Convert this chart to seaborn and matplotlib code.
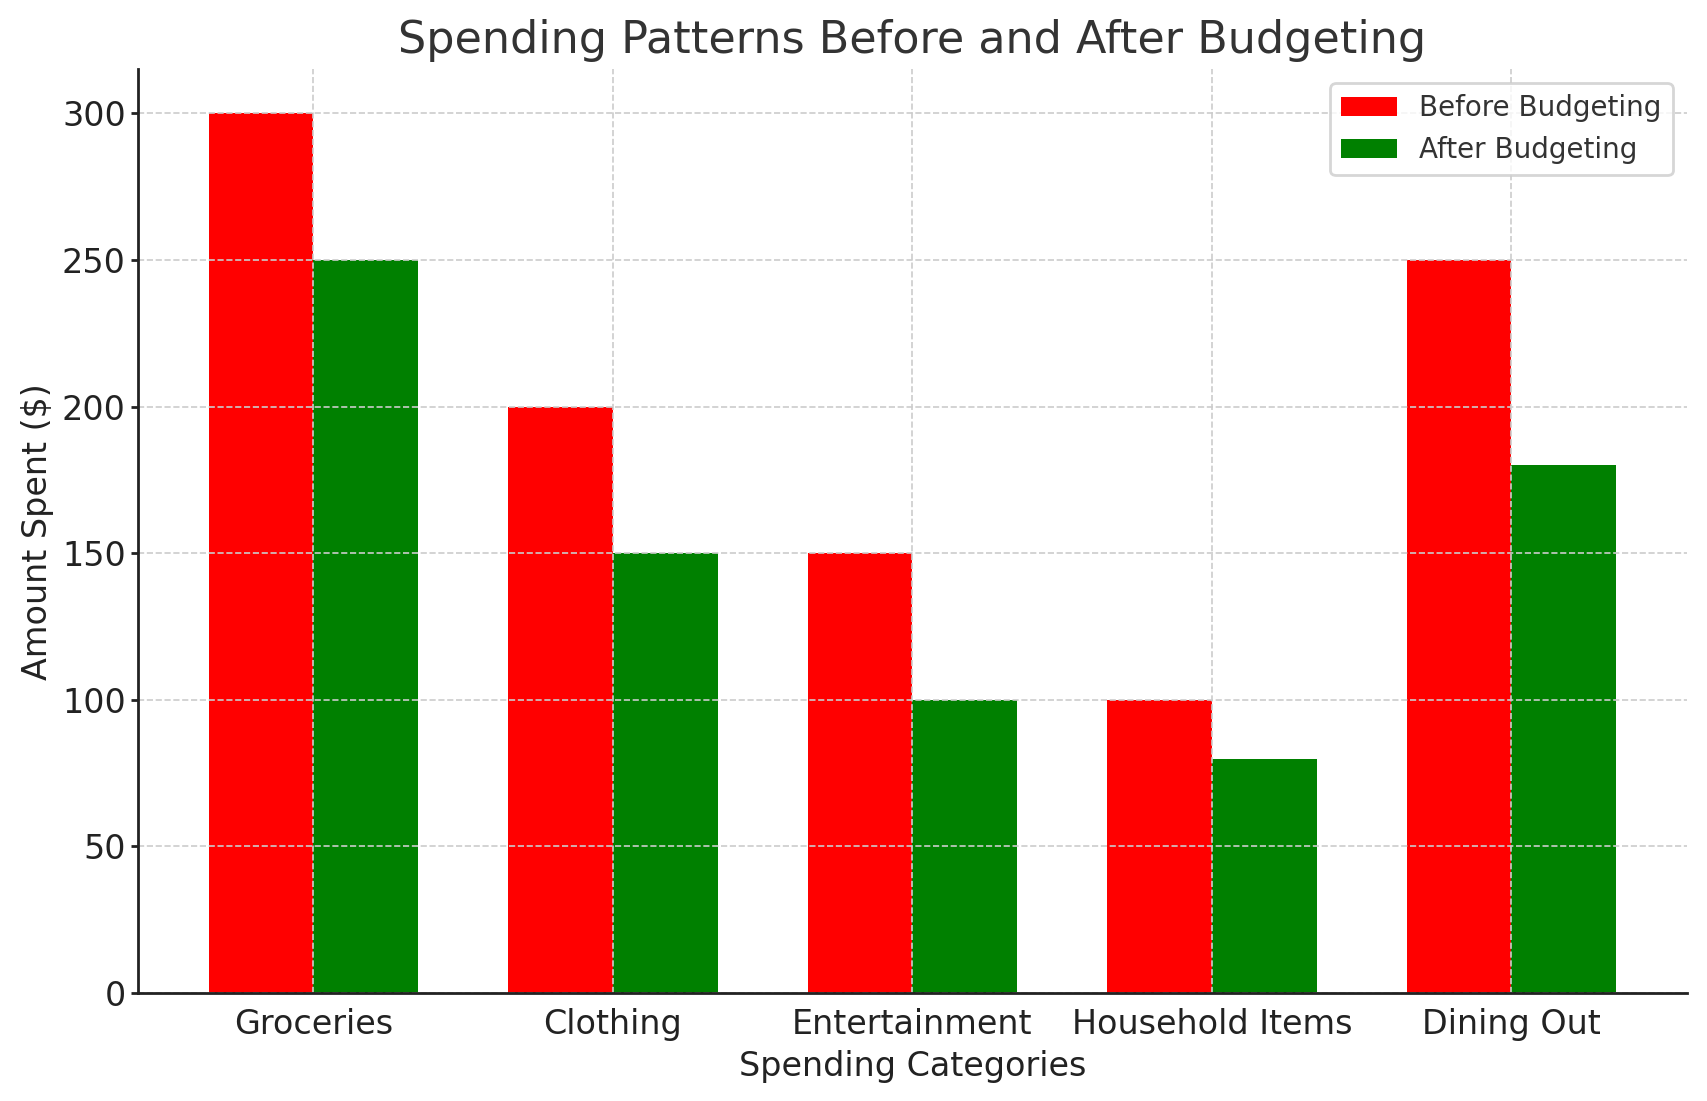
import matplotlib
matplotlib.use("Agg")
import matplotlib.pyplot as plt
import seaborn as sns
import pandas as pd

categories = ["Groceries", "Clothing", "Entertainment", "Household Items", "Dining Out"]
before = [300, 200, 150, 100, 250]
after = [250, 150, 100, 80, 180]
series_names = ["Before Budgeting", "After Budgeting"]
colors = ["red", "green"]

df = pd.DataFrame({
    "Category": categories * 2,
    "Amount": before + after,
    "Series": [series_names[0]] * len(categories) + [series_names[1]] * len(categories),
})

sns.set_style("white")
plt.rcParams["font.family"] = ["DejaVu Sans"]

fig = plt.figure(figsize=(8.535, 5.505), dpi=200)
ax = fig.add_axes([0.081, 0.098, 0.907, 0.839])

sns.barplot(data=df, x="Category", y="Amount", hue="Series", palette=colors,
            width=0.7, saturation=1, ax=ax, errorbar=None, linewidth=0)

ax.set_xlim(-0.585, 4.585)
ax.set_ylim(0, 315)
ax.set_yticks([0, 50, 100, 150, 200, 250, 300])
ax.grid(True, linestyle="--", color="#cccccc", linewidth=0.6)
ax.set_axisbelow(False)

for s in ["top", "right"]:
    ax.spines[s].set_visible(False)
for s in ["left", "bottom"]:
    ax.spines[s].set_color("#222222")
    ax.spines[s].set_linewidth(1.0)
    ax.spines[s].set_zorder(5)

ax.tick_params(axis="y", left=True, length=2.5, width=1, pad=2, color="#222222", labelsize=12, labelcolor="#222222")
ax.tick_params(axis="x", bottom=False, pad=2, labelsize=12, labelcolor="#222222")

ax.set_title("Spending Patterns Before and After Budgeting", fontsize=16, color="#333333")
ax.set_xlabel("Spending Categories", fontsize=12, color="#222222", labelpad=3)
ax.set_ylabel("Amount Spent ($)", fontsize=12, color="#222222", labelpad=3)

leg = ax.legend(loc="upper right", fontsize=10, frameon=True, title=None)
leg.get_frame().set_edgecolor("#cccccc")
for t in leg.get_texts():
    t.set_color("#333333")

fig.savefig("out.png", dpi=200)
